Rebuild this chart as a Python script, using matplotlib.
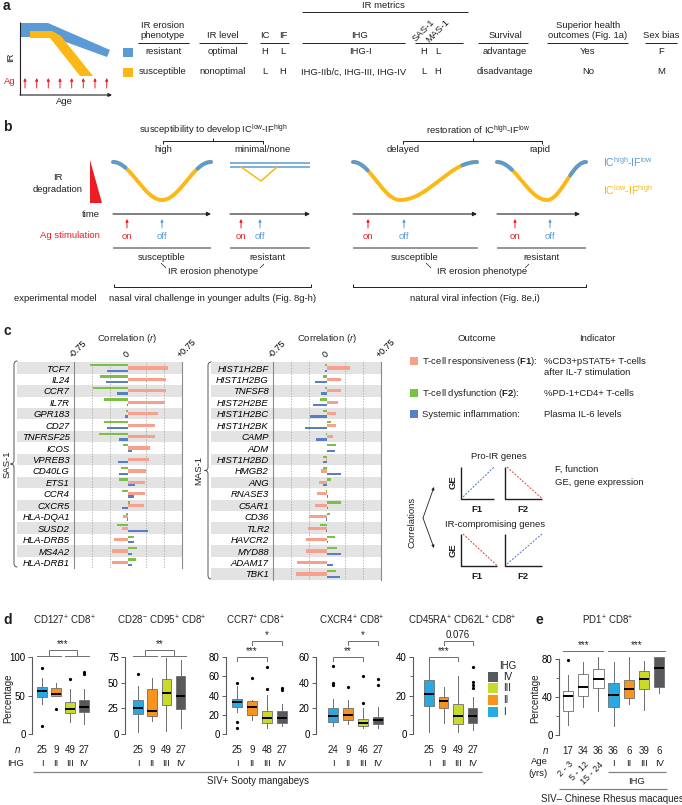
import numpy as np
import matplotlib
matplotlib.use("Agg")
import matplotlib.pyplot as plt
from matplotlib.patches import Polygon, Rectangle, PathPatch
from matplotlib.path import Path
from matplotlib.transforms import blended_transform_factory as blend

plt.rcParams['font.family'] = ['Liberation Sans', 'DejaVu Sans']
plt.rcParams['font.size'] = 6.8
plt.rcParams['mathtext.fontset'] = 'custom'
plt.rcParams['mathtext.rm'] = 'Liberation Sans'
plt.rcParams['mathtext.it'] = 'Liberation Sans:italic'
plt.rcParams['mathtext.bf'] = 'Liberation Sans:bold'
plt.rcParams['mathtext.default'] = 'regular'
plt.rcParams['text.color'] = '#231f20'

# ---------------- data ----------------
# panel c: correlations (r) with F1 (pink), F2 (green), IL-6 (blue)
sas_genes = ['TCF7', 'IL24', 'CCR7', 'IL7R', 'GPR183', 'CD27', 'TNFRSF25', 'ICOS', 'VPREB3',
             'CD40LG', 'ETS1', 'CCR4', 'CXCR5', 'HLA-DQA1', 'SUSD2', 'HLA-DRB5', 'MS4A2', 'HLA-DRB1']
sas_f1 = [0.56, 0.53, 0.53, 0.51, 0.42, 0.37, 0.37, 0.30, 0.29, 0.25, 0.23, 0.23, 0.22,
          -0.07, -0.09, -0.20, -0.22, -0.22]
sas_f2 = [-0.53, -0.39, -0.49, -0.33, -0.03, -0.33, -0.40, -0.07, 0.0, -0.10, -0.12, -0.09, 0.03,
          -0.03, -0.15, 0.08, 0.12, 0.11]
sas_il6 = [-0.29, -0.31, -0.15, -0.015, -0.04, -0.29, -0.13, 0.06, -0.14, -0.12, 0.10, 0.08, -0.08,
           -0.02, 0.28, 0.08, 0.05, 0.05]

mas_genes = ['HIST1H2BF', 'HIST1H2BG', 'TNFSF8', 'HIST2H2BE', 'HIST1H2BC', 'HIST1H2BK', 'CAMP', 'ADM',
             'HIST1H2BD', 'HMGB2', 'ANG', 'RNASE3', 'C5AR1', 'CD36', 'TLR2', 'HAVCR2', 'MYD88',
             'ADAM17', 'TBK1']
mas_f1 = [0.32, 0.20, 0.19, 0.15, 0.13, 0.12, 0.08, 0.0, -0.02, -0.08, -0.11, -0.14, -0.16,
          -0.25, -0.26, -0.29, -0.29, -0.41, -0.43]
mas_f2 = [-0.03, -0.05, -0.03, -0.10, -0.05, 0.06, -0.02, 0.12, -0.06, -0.06, 0.06, -0.01, 0.19,
          0.04, -0.10, 0.11, 0.14, 0.0, 0.12]
mas_il6 = [-0.03, -0.16, -0.08, -0.19, -0.24, -0.31, -0.15, 0.11, -0.06, 0.20, -0.06, 0.02, 0.02,
           -0.02, -0.01, 0.01, 0.20, 0.08, 0.18]

# panel d: box plots by IHG (I, II, III, IV)
ihg_labels = ['I', 'II', 'III', 'IV']
d_titles = ['CD127$^{+}$ CD8$^{+}$', 'CD28$^{-}$ CD95$^{+}$ CD8$^{+}$', 'CCR7$^{+}$ CD8$^{+}$',
            'CXCR4$^{+}$ CD8$^{+}$', 'CD45RA$^{+}$ CD62L$^{+}$ CD8$^{+}$']
d_n = [[25, 9, 49, 27], [25, 9, 49, 27], [25, 9, 48, 27], [24, 9, 46, 27], [25, 9, 49, 27]]
d_med = [[56, 52, 33, 35], [25, 22.5, 39.5, 37], [33, 28, 16.5, 16.5], [13.8, 14.6, 8.6, 10.7], [21, 17, 9.6, 9.5]]
d_q1 = [[48.5, 50, 27, 28], [19.6, 17.7, 28.3, 24.5], [28, 20, 11.4, 11.5], [9.4, 11.2, 6.5, 7.8], [14.8, 13.5, 5.2, 5.8]]
d_q3 = [[61, 60, 41, 44], [33, 43.8, 53.4, 56.7], [36, 34, 24, 24], [20.3, 20.3, 12, 13], [28.3, 19.1, 15.8, 13.7]]
d_lo = [[39, 49, 15.5, 13], [1.6, 12.9, 3.2, 5.8], [23, 15, 6, 8], [6, 7.8, 4.5, 4.7], [0.9, 5.7, 0.9, 2.1]]
d_hi = [[73, 66.5, 58, 59], [47, 55, 74, 72], [50, 35, 41, 31], [26.9, 26.3, 20.5, 21], [38.8, 24.3, 30, 19]]
d_fliers = [[[86, 10], [33], [72], [80, 78]],
            [[58], [], [], []],
            [[53, 12, 6], [58], [70, 47], [48, 46]],
            [[53, 40, 38.5], [36.5], [45, 24.5], [43, 38]],
            [[], [], [], [35, 27, 25.5, 24]]]
d_ymax = [100, 75, 80, 60, 40]
d_yticks = [[0, 50, 100], [0, 25, 50, 75], [0, 20, 40, 60, 80], [0, 20, 40, 60], [0, 20, 40]]

# panel e: PD1+ CD8+ by age group and IHG
e_age = ['2 - 3', '5 - 12', '15 - 24']
e_n = [17, 34, 36, 36, 6, 39, 6]
e_med = [41, 50.8, 59.4, 42, 48.7, 59.4, 71]
e_q1 = [25.6, 41, 49.8, 30, 39, 48, 50.5]
e_q3 = [46, 64.7, 70, 55, 57.6, 67.5, 82]
e_lo = [10.7, 30, 25.6, 10, 33, 26.7, 44.4]
e_hi = [63, 77, 82.5, 77, 82, 78, 82.5]
e_fliers = [[79], [], [], [], [], [], []]

# ---------------- style ----------------
BLUE = '#5b9bd5'
YEL = '#fbb817'
RED = '#ee1c25'
PINK = '#f7a08c'
GREEN = '#7ac143'
CBLUE = '#5a7ec6'
IHG_COL = ['#27aae1', '#f7941d', '#c9da2a', '#58595b']
TXT = '#231f20'
GRY = '#6d6e71'
NFS = 7  # n-row font size

W, H = 682, 805
fig = plt.figure(figsize=(W / 100, H / 100), dpi=100)
cv = fig.add_axes([0, 0, 1, 1])
cv.set_xlim(0, W)
cv.set_ylim(H, 0)
cv.axis('off')


def px_axes(x0, y0, x1, y1):
    ax = fig.add_axes([x0 / W, 1 - y1 / H, (x1 - x0) / W, (y1 - y0) / H])
    ax.set_facecolor('none')
    return ax


def T(x, y, s, **kw):
    kw.setdefault('ha', 'center')
    kw.setdefault('va', 'center')
    cv.text(x, y, s, **kw)


def L(xs, ys, c=TXT, lw=0.7, **kw):
    cv.plot(xs, ys, color=c, lw=lw, solid_capstyle='butt', **kw)


def arrow(x0, y0, x1, y1, c=TXT, lw=0.7, ms=5):
    cv.annotate('', xy=(x1, y1), xytext=(x0, y0),
                arrowprops=dict(arrowstyle='-|>', color=c, lw=lw, mutation_scale=ms,
                                shrinkA=0, shrinkB=0))


def brace(x, y0, y1, w=3.5):
    ym = (y0 + y1) / 2
    verts = [(x + w, y0), (x, y0), (x, y0 + w), (x, ym - w), (x, ym), (x - w, ym),
             (x, ym), (x, ym + w), (x, y1 - w), (x, y1), (x + w, y1)]
    codes = [Path.MOVETO, Path.CURVE3, Path.CURVE3, Path.LINETO, Path.CURVE3, Path.CURVE3,
             Path.CURVE3, Path.CURVE3, Path.LINETO, Path.CURVE3, Path.CURVE3]
    cv.add_patch(PathPatch(Path(verts, codes), fill=False, lw=0.7, edgecolor='#555555'))


# ================= panel a =================
T(3, 6, 'a', fontsize=10, fontweight='bold', ha='left')
cv.add_patch(Polygon([(20, 23), (48, 23), (110, 50), (107, 57), (52, 37), (20, 37)], color=BLUE, lw=0))
cv.add_patch(Polygon([(30, 31), (52, 31), (61, 36), (93, 76), (80, 76), (50, 38), (30, 38)], color=YEL, lw=0))
L([20, 20], [22, 95], lw=0.8)
arrow(20, 95, 112, 95, lw=0.8, ms=5)
T(11, 57, 'IR', rotation=90)
T(64, 101, 'Age')
T(10, 81, 'Ag', color=RED)
for xa in [25, 36.7, 48.3, 60, 71.7, 83.3, 95, 106.7]:
    arrow(xa, 88, xa, 78, c=RED, lw=0.7, ms=4)

T(163, 25, 'IR erosion')
T(163, 36, 'phenotype')
T(223, 36, 'IR level')
T(265, 36, 'IC')
T(283, 36, 'IF')
T(383, 5, 'IR metrics')
T(360, 36, 'IHG')
T(424, 31, 'SAS-1', rotation=45)
T(438, 31, 'MAS-1', rotation=45)
T(505, 36, 'Survival')
T(588, 25, 'Superior health')
T(588, 36, 'outcomes (Fig. 1a)')
T(661, 36, 'Sex bias')
L([302, 468], [12, 12])
for xa, xb in [(138, 189), (199, 247), (260, 289), (302, 405), (415, 463), (478, 528), (547, 628), (645, 677)]:
    L([xa, xb], [43, 43])
cv.add_patch(Rectangle((123, 48), 10, 9, color=BLUE, lw=0))
cv.add_patch(Rectangle((123, 68), 10, 9, color=YEL, lw=0))
col_x = [163, 223, 265, 283, 360, 424, 438, 505, 588, 661]
for xa, s in zip(col_x, ['resistant', 'optimal', 'H', 'L', 'IHG-I', 'H', 'L', 'advantage', 'Yes', 'F']):
    T(xa, 52, s)
for xa, s in zip(col_x, ['susceptible', 'nonoptimal', 'L', 'H', 'IHG-IIb/c, IHG-III, IHG-IV', 'L', 'H',
                         'disadvantage', 'No', 'M']):
    T(xa - (6 if s.startswith('IHG') else 0), 72, s)

# ================= panel b =================
T(3, 127, 'b', fontsize=10, fontweight='bold', ha='left')
T(213, 130, 'susceptibility to develop IC$^{low}$-IF$^{high}$')
L([163, 163, 263, 263], [144, 141, 141, 144])
L([213, 213], [141, 138])
T(163, 150, 'high')
T(263, 150, 'minimal/none')
T(478, 130, 'restoration of IC$^{high}$-IF$^{low}$')
L([403, 403, 542, 542], [144, 141, 141, 144])
L([473, 473], [141, 138])
T(403, 150, 'delayed')
T(540, 150, 'rapid')

cv.add_patch(Polygon([(90, 160), (90, 203), (102, 203)], color=RED, lw=0))
T(58, 178, 'IR')
T(58, 190, 'degradation')


def dip(xa, xb, tm, ba, bb, ya=162, yb=200):
    t = np.linspace(0, 1, 300)
    s = np.where(t < tm, (1 - np.cos(np.pi * t / tm)) / 2,
                 (1 + np.cos(np.pi * (t - tm) / (1 - tm))) / 2)
    x = xa + (xb - xa) * t
    y = ya + (yb - ya) * s
    cv.plot(x, y, color=YEL, lw=2.8, solid_capstyle='round')
    cv.plot(x[t <= ba], y[t <= ba], color=BLUE, lw=2.8, solid_capstyle='round')
    cv.plot(x[t >= bb], y[t >= bb], color=BLUE, lw=2.8, solid_capstyle='round')


dip(113, 211, 0.5, 0.13, 0.86)
dip(353, 477, 0.38, 0.12, 0.88)
dip(497, 586, 0.56, 0.17, 0.82)
L([230, 310], [163, 163], c=BLUE, lw=1.1)
L([230, 310], [167, 167], c=BLUE, lw=1.1)
cv.plot([241, 261, 277], [167, 181, 167], color=YEL, lw=1.1)

T(100, 214, 'time', ha='right')
T(100, 235, 'Ag stimulation', ha='right', color=RED)
for xa, xb, on, off in [(113, 211, 127, 162), (230, 310, 241, 260), (353, 477, 368, 404), (497, 580, 515, 550)]:
    arrow(xa, 214, xb, 214, lw=0.8, ms=6)
    arrow(on, 228, on, 219, c=RED, lw=0.7, ms=4)
    arrow(off, 228, off, 219, c=BLUE, lw=0.7, ms=4)
    T(on, 236, 'on', color=RED)
    T(off, 236, 'off', color=BLUE)
for xa, xb in [(113, 211), (230, 310), (353, 478), (497, 586)]:
    L([xa, xb], [248, 248], c='#939598', lw=1.4)
T(162, 257, 'susceptible')
T(268, 257, 'resistant')
T(213, 271, 'IR erosion phenotype')
L([161, 166], [263, 268], lw=0.5)
L([260, 264], [268, 264], lw=0.5)
T(415, 257, 'susceptible')
T(541, 257, 'resistant')
T(482, 271, 'IR erosion phenotype')
L([426, 431], [263, 268], lw=0.5)
L([525, 529], [268, 264], lw=0.5)
L([114, 114, 311, 311], [284, 287, 287, 284])
L([353, 353, 586, 586], [284, 287, 287, 284])
T(55, 298, 'experimental model')
T(213, 298, 'nasal viral challenge in younger adults (Fig. 8g-h)')
T(475, 298, 'natural viral infection (Fig. 8e,i)')
T(603, 162, 'IC$^{high}$-IF$^{low}$', color=BLUE, ha='left', fontsize=7.5)
T(603, 190, 'IC$^{low}$-IF$^{high}$', color=YEL, ha='left', fontsize=7.5)

# ================= panel c =================
T(3, 331, 'c', fontsize=10, fontweight='bold', ha='left')


def corr_chart(x0, x1, row_top, genes, f1, f2, il6, shade_left_px):
    n = len(genes)
    row_h = 11.44
    ax = px_axes(x0, row_top - row_h / 2, x1, row_top - row_h / 2 + n * row_h)
    ax.set_xlim(-0.75, 0.75)
    ax.set_ylim(n - 0.5, -0.5)
    y = np.arange(n)
    per_px = 1.5 / (x1 - x0)
    left = -0.75 - (x0 - shade_left_px) * per_px
    for i in range(0, n, 2):
        ax.barh(i, 0.75 - left, left=left, height=1.0, color='#e3e3e3', zorder=0, clip_on=False)
    for v in [-0.5, -0.25, 0.25, 0.5]:
        ax.axvline(v, color='#9d9d9d', lw=0.5, ls=(0, (2, 2)), zorder=0.5)
    ax.barh(y - 0.25, f2, height=0.2, color=GREEN, zorder=2)
    ax.barh(y, f1, height=0.28, color=PINK, zorder=2)
    ax.barh(y + 0.24, il6, height=0.2, color=CBLUE, zorder=2)
    for s in ['top', 'bottom']:
        ax.spines[s].set_visible(False)
    for s in ['left', 'right']:
        ax.spines[s].set_color('#8a8a8a')
        ax.spines[s].set_linewidth(0.8)
    ax.set_yticks(y)
    ax.set_yticklabels(genes, fontstyle='italic', fontsize=6.8)
    ax.tick_params(axis='y', length=0, pad=3)
    ax.xaxis.tick_top()
    ax.set_xticks([-0.75, 0, 0.75])
    ax.set_xticklabels(['-0.75', '0', '+0.75'], rotation=45, ha='left', va='bottom',
                       rotation_mode='anchor')
    ax.tick_params(axis='x', length=0, pad=2, labelsize=6.5)
    return ax


corr_chart(74, 182, 368, sas_genes, sas_f1, sas_f2, sas_il6, 17)
corr_chart(273, 381, 368, mas_genes, mas_f1, mas_f2, mas_il6, 211)
T(127, 338, 'Correlation ($\\mathit{r}$)')
T(327, 338, 'Correlation ($\\mathit{r}$)')
brace(14, 361, 567)
T(7, 464, 'SAS-1', rotation=90)
brace(208, 362, 579)
T(199, 470, 'MAS-1', rotation=90)

T(477, 338, 'Outcome')
T(597, 338, 'Indicator')
for yy, c, lab, ind in [(361, PINK, 'T-cell responsiveness ($\\mathbf{F1}$):', '%CD3+pSTAT5+ T-cells'),
                        (393, GREEN, 'T-cell dysfunction ($\\mathbf{F2}$):', '%PD-1+CD4+ T-cells'),
                        (414, CBLUE, 'Systemic inflammation:', 'Plasma IL-6 levels')]:
    cv.add_patch(Rectangle((410, yy - 4), 8, 8, color=c, lw=0))
    T(422, yy, lab, ha='left')
    T(544, yy, ind, ha='left')
T(544, 372, 'after IL-7 stimulation', ha='left')

DBLUE = '#4a6fc2'
DRED = '#ea3b2e'


def mini(x0, x1, y0, y1, up, c):
    L([x0, x0, x1], [y0, y1, y1], lw=1.0)
    if up:
        cv.plot([x0 + 2, x1], [y1 - 2, y0], color=c, lw=0.7, ls=(0, (2, 1.5)))
    else:
        cv.plot([x0 + 2, x1], [y0, y1 - 0.5], color=c, lw=0.7, ls=(0, (2, 1.5)))


T(499, 456, 'Pro-IR genes')
mini(461, 494, 467, 499, True, DBLUE)
mini(505, 542, 467, 499, False, DRED)
T(453, 482, 'GE', rotation=90, fontweight='bold')
T(477, 509, 'F1', fontweight='bold')
T(523, 509, 'F2', fontweight='bold')
T(495, 524, 'IR-compromising genes')
mini(461, 497, 534, 566, False, DRED)
mini(505, 542, 534, 566, True, DBLUE)
T(453, 550, 'GE', rotation=90, fontweight='bold')
T(477, 576, 'F1', fontweight='bold')
T(523, 576, 'F2', fontweight='bold')
T(412, 522, 'Correlations', rotation=90)
arrow(423, 518, 434, 487, lw=0.6, ms=4)
arrow(423, 518, 434, 548, lw=0.6, ms=4)
T(555, 469, 'F, function', ha='left')
T(555, 482, 'GE, gene expression', ha='left')

# ================= panel d / e =================
T(3, 620, 'd', fontsize=10, fontweight='bold', ha='left')
T(536, 620, 'e', fontsize=10, fontweight='bold', ha='left')


def box_axes(spine_x, first_x, step, n, ymax, yticks, top_px=657, bot_px=734):
    x1 = first_x + (n - 1) * step + 0.6 * step
    ax = px_axes(spine_x, top_px, x1, bot_px)
    ax.set_xlim(1 - (first_x - spine_x) / step, n + 0.6)
    ax.set_ylim(0, ymax)
    for s in ['top', 'right', 'bottom']:
        ax.spines[s].set_visible(False)
    ax.spines['left'].set_color('#58595b')
    ax.spines['left'].set_linewidth(0.8)
    ax.set_xticks([])
    ax.set_yticks(yticks)
    ax.tick_params(axis='y', length=3, width=0.7, labelsize=7, pad=1.5, color='#58595b')
    return ax


def draw_boxes(ax, med, q1, q3, lo, hi, fl, colors):
    stats = [dict(med=m, q1=a, q3=b, whislo=l, whishi=h, fliers=f)
             for m, a, b, l, h, f in zip(med, q1, q3, lo, hi, fl)]
    art = ax.bxp(stats, positions=list(range(1, len(stats) + 1)), widths=0.68,
                 patch_artist=True, showcaps=False, manage_ticks=False,
                 boxprops=dict(edgecolor=GRY, linewidth=0.6),
                 whiskerprops=dict(color=GRY, linewidth=0.7),
                 medianprops=dict(color='k', linewidth=1.4),
                 flierprops=dict(marker='o', markersize=1.3, markerfacecolor='k',
                                 markeredgecolor='k', linestyle='none'))
    for p, c in zip(art['boxes'], colors):
        p.set_facecolor(c)
    for k in art:
        for a in art[k]:
            a.set_clip_on(False)


def sig(ax, xa, xb, y, label, tick=4, ty=None):
    tr = blend(ax.transData, cv.transData)
    ax.plot([xa, xa, xb, xb], [y + tick, y, y, y + tick], color=GRY, lw=0.7, transform=tr,
            clip_on=False)
    ax.text((xa + xb) / 2, y - 1 if ty is None else ty, label, transform=tr, ha='center',
            va='bottom', fontsize=7)


d_geom = [(32, 42, 14), (125, 138, 14.2), (226, 237, 15), (316, 333, 15), (413, 429, 14.5)]
d_centers = [64, 162, 255, 352, 462]
d_axes = []
for k in range(5):
    sx, fx, st = d_geom[k]
    ax = box_axes(sx, fx, st, 4, d_ymax[k], d_yticks[k])
    if k == 4:
        ax.set_yticks([10, 30], minor=True)
        ax.tick_params(axis='y', which='minor', length=2, width=0.6, color='#58595b')
    draw_boxes(ax, d_med[k], d_q1[k], d_q3[k], d_lo[k], d_hi[k], d_fliers[k], IHG_COL)
    tr = blend(ax.transData, cv.transData)
    for i in range(4):
        ax.text(i + 1, 750, str(d_n[k][i]), transform=tr, ha='center', va='center', fontsize=NFS)
        ax.text(i + 1, 763, ihg_labels[i], transform=tr, ha='center', va='center', fontsize=6.8)
    T(d_centers[k], 620, d_titles[k], fontsize=7)
    d_axes.append(ax)

# group comparison brackets (I+II vs III+IV)
for ax, lab in [(d_axes[0], '***'), (d_axes[1], '**')]:
    tr = blend(ax.transData, cv.transData)
    for xa, xb in [(0.62, 2.35), (2.65, 4.35)]:
        ax.plot([xa, xb], [656, 656], color=GRY, lw=0.7, transform=tr, clip_on=False)
    ax.plot([1.5, 1.5, 3.5, 3.5], [656, 650, 650, 656], color=GRY, lw=0.7, transform=tr, clip_on=False)
    ax.text(2.5, 649, lab, transform=tr, ha='center', va='bottom', fontsize=7)
for ax, l1, l2 in [(d_axes[2], '***', '*'), (d_axes[3], '**', '*'), (d_axes[4], '***', '0.076')]:
    sig(ax, 1, 3, 657, l1)
    sig(ax, 2, 4, 641, l2)

T(8, 698, 'Percentage', rotation=90, fontsize=7)
T(18, 750, 'n', fontstyle='italic', fontsize=NFS)
T(16, 763, 'IHG', fontsize=6.8)
L([33, 482], [772, 772], c='#808285', lw=0.9)
T(258, 781, 'SIV+ Sooty mangabeys', fontsize=7)

T(508, 666, 'IHG', fontsize=7)
for yy, c, lab in [(677, IHG_COL[3], 'IV'), (688, IHG_COL[2], 'III'), (700, IHG_COL[1], 'II'),
                   (712, IHG_COL[0], 'I')]:
    cv.add_patch(Rectangle((488, yy - 5), 10, 10, color=c, lw=0))
    T(503, yy, lab, ha='left', fontsize=7)

# panel e
T(608, 620, 'PD1$^{+}$ CD8$^{+}$', fontsize=7)
ax = box_axes(559, 568, 15.2, 7, 80, [0, 40, 80], top_px=659, bot_px=735)
ax.set_yticks([20, 60], minor=True)
ax.tick_params(axis='y', which='minor', length=2, width=0.6, color='#58595b')
draw_boxes(ax, e_med, e_q1, e_q3, e_lo, e_hi, e_fliers, ['white'] * 3 + IHG_COL)
tr = blend(ax.transData, cv.transData)
for i in range(7):
    ax.text(i + 1, 751, str(e_n[i]), transform=tr, ha='center', va='center', fontsize=NFS)
for i, s in enumerate(e_age):
    ax.text(i + 1 + 0.25, 763, s, transform=tr, ha='right', va='center', rotation=45,
            rotation_mode='anchor', fontsize=6.5)
for i, s in enumerate(ihg_labels):
    ax.text(i + 4, 763, s, transform=tr, ha='center', va='center', fontsize=6.8)
ax.plot([0.67, 3.3], [651, 651], color=GRY, lw=0.7, transform=tr, clip_on=False)
ax.text(2, 650, '***', transform=tr, ha='center', va='bottom', fontsize=7)
ax.plot([3.63, 7.4], [651, 651], color=GRY, lw=0.7, transform=tr, clip_on=False)
ax.text(5.5, 650, '***', transform=tr, ha='center', va='bottom', fontsize=7)
T(535, 698, 'Percentage', rotation=90, fontsize=7)
T(546, 751, 'n', fontstyle='italic', fontsize=NFS)
T(539, 761, 'Age', fontsize=6.8)
T(538, 773, '(yrs)', fontsize=6.8)
L([608, 666], [772, 772], c='#808285', lw=0.9)
T(637, 781, 'IHG', fontsize=6.8)
L([559, 667], [789, 789], c='#808285', lw=0.9)
T(612, 799, 'SIV\u2013 Chinese Rhesus macaques', fontsize=7)

fig.savefig('out.png', dpi=100)
